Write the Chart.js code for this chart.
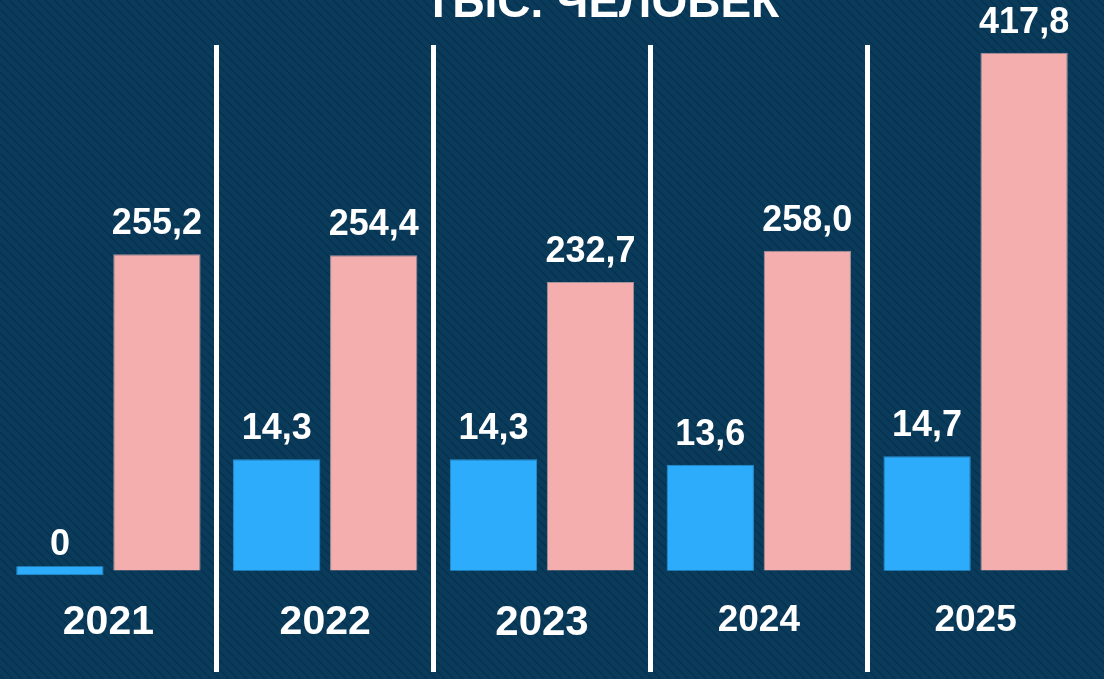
<!DOCTYPE html>
<html>
<head>
<meta charset="utf-8">
<script src="https://cdn.jsdelivr.net/npm/chart.js@4/dist/chart.umd.min.js"></script>
<style>
  html, body { margin: 0; padding: 0; background: #0a3b5b; }
  #wrap { width: 1104px; height: 679px; }
</style>
</head>
<body>
<div id="wrap"><canvas id="chart"></canvas></div>
<script>
const years = ["2021", "2022", "2023", "2024", "2025"];
const blueValues = [0, 14.3, 14.3, 13.6, 14.7];
const pinkValues = [255.2, 254.4, 232.7, 258.0, 417.8];
const yearFontSizes = [41, 41, 42, 37, 37];
const titleText = "ТЫС. ЧЕЛОВЕК";

Chart.defaults.font.family = "'Liberation Sans', Arial, sans-serif";

const formatValue = v => (v === 0 ? "0" : v.toFixed(1).replace(".", ","));

// striped navy background
const backgroundPlugin = {
  id: "stripes",
  beforeDraw(chart) {
    const { ctx, width, height } = chart;
    const tile = document.createElement("canvas");
    tile.width = 9;
    tile.height = 9;
    const t = tile.getContext("2d");
    t.fillStyle = "#0a3b5b";
    t.fillRect(0, 0, 9, 9);
    t.strokeStyle = "#07314d";
    t.lineWidth = 1.2;
    t.beginPath();
    t.moveTo(-1, -1);
    t.lineTo(10, 10);
    t.stroke();
    ctx.save();
    ctx.fillStyle = ctx.createPattern(tile, "repeat");
    ctx.fillRect(0, 0, width, height);
    ctx.restore();
  }
};

// value labels above bars + cropped title
const labelsPlugin = {
  id: "valueLabels",
  afterDatasetsDraw(chart) {
    const { ctx } = chart;
    ctx.save();
    ctx.fillStyle = "#ffffff";
    ctx.font = "bold 36px 'Liberation Sans', Arial, sans-serif";
    ctx.textAlign = "center";
    ctx.textBaseline = "alphabetic";
    chart.data.datasets.forEach((ds, i) => {
      chart.getDatasetMeta(i).data.forEach((bar, j) => {
        ctx.fillText(formatValue(ds.data[j]), bar.x, bar.y - 20);
      });
    });
    ctx.font = "bold 46px 'Liberation Sans', Arial, sans-serif";
    ctx.fillText(titleText, chart.width * 0.545, 17);
    ctx.restore();
  }
};

new Chart(document.getElementById("chart"), {
  type: "bar",
  data: {
    labels: years,
    datasets: [
      {
        label: "blue",
        data: blueValues,
        yAxisID: "yBlue",
        backgroundColor: "#2eacfc",
        borderColor: "#2a8fd0",
        borderWidth: 1,
        minBarLength: 9,
        categoryPercentage: 0.895,
        barPercentage: 0.9
      },
      {
        label: "pink",
        data: pinkValues,
        yAxisID: "yPink",
        backgroundColor: "#f5aeae",
        borderColor: "#a6929c",
        borderWidth: 1,
        categoryPercentage: 0.895,
        barPercentage: 0.9
      }
    ]
  },
  options: {
    responsive: true,
    maintainAspectRatio: false,
    animation: false,
    layout: { padding: { left: 0, right: 20, top: 45, bottom: 7 } },
    plugins: {
      legend: { display: false },
      tooltip: { enabled: false }
    },
    scales: {
      x: {
        position: { yPink: 0 },
        border: { display: false },
        grid: {
          offset: true,
          color: c => (c.type === "tick" && c.index > 0 ? "#ffffff" : "transparent"),
          lineWidth: 5,
          drawTicks: false
        },
        ticks: {
          color: "#ffffff",
          padding: 28,
          font: c => ({ size: yearFontSizes[c.index] || 40, weight: "bold" })
        }
      },
      yPink: { display: false, min: -82, max: 424 },
      yBlue: { display: false, min: -13, max: 67.5 }
    }
  },
  plugins: [backgroundPlugin, labelsPlugin]
});
</script>
</body>
</html>
